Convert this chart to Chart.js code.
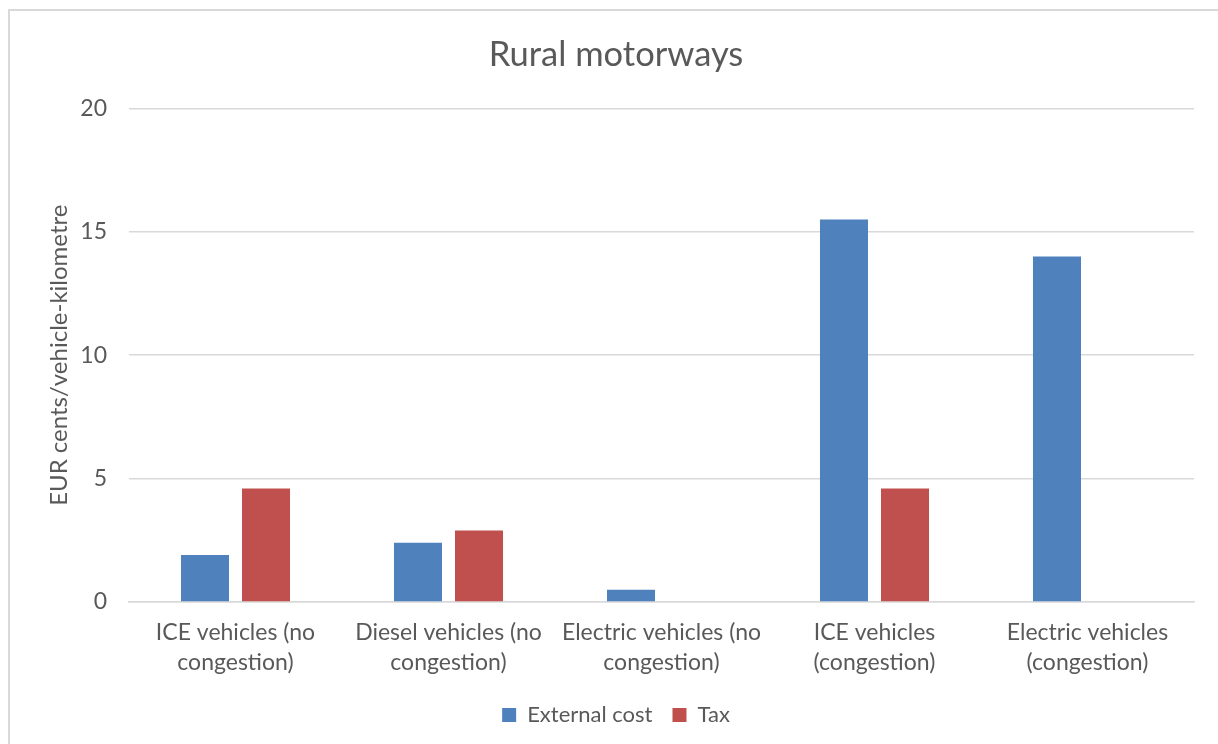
<!DOCTYPE html>
<html>
<head>
<meta charset="utf-8">
<script src="https://cdn.jsdelivr.net/npm/chart.js@4/dist/chart.umd.min.js"></script>
<style>
  html, body { margin: 0; padding: 0; background: #ffffff; overflow: hidden; }
  #frame { position: absolute; left: 8px; top: 9px; width: 1240px; height: 760px; border: 2px solid #d9d9d9; box-sizing: border-box; }
  #wrap { position: absolute; left: 0; top: 0; width: 1218px; height: 744px; }
</style>
</head>
<body>
<div id="frame"></div>
<div id="wrap"><canvas id="c" width="1218" height="744"></canvas></div>
<script>
const categories = [
  ["ICE vehicles (no", "congestion)"],
  ["Diesel vehicles (no", "congestion)"],
  ["Electric vehicles (no", "congestion)"],
  ["ICE vehicles", "(congestion)"],
  ["Electric vehicles", "(congestion)"]
];
const externalCost = [1.9, 2.4, 0.5, 15.5, 14.0];
const tax = [4.6, 2.9, 0, 4.6, 0];
const seriesNames = ["External cost", "Tax"];
const yTicks = [0, 5, 10, 15, 20];

const FONT = "Lato, 'Open Sans', sans-serif";
const TXT = "#595959";

new Chart(document.getElementById("c"), {
  type: "bar",
  data: {
    labels: categories,
    datasets: [
      { label: seriesNames[0], data: externalCost, backgroundColor: "#4F81BD", borderWidth: 0,
        categoryPercentage: 0.573, barPercentage: 0.787 },
      { label: seriesNames[1], data: tax, backgroundColor: "#C0504D", borderWidth: 0,
        categoryPercentage: 0.573, barPercentage: 0.787 }
    ]
  },
  options: {
    responsive: false,
    animation: false,
    devicePixelRatio: 1,
    layout: { padding: { left: 38, right: 24, top: 0, bottom: 8 } },
    plugins: {
      title: {
        display: true, text: "Rural motorways", color: TXT,
        font: { family: FONT, size: 34.5, weight: "normal", lineHeight: 1.2 },
        padding: { top: 34, bottom: 33 }
      },
      legend: {
        position: "bottom",
        labels: { color: TXT, font: { family: FONT, size: 22 }, boxWidth: 14, boxHeight: 14, padding: 20 }
      },
      tooltip: { enabled: false }
    },
    scales: {
      x: {
        afterFit: (axis) => { axis.height = 82; },
        grid: { display: false, drawTicks: false },
        border: { display: true, color: "#d9d9d9", width: 1.5 },
        ticks: { color: TXT, font: { family: FONT, size: 23, lineHeight: 1.3 }, padding: 16, maxRotation: 0, autoSkip: false }
      },
      y: {
        min: 0, max: 20,
        afterBuildTicks: (axis) => { axis.ticks = yTicks.map(v => ({ value: v })); },
        afterFit: (axis) => { axis.width = 91; },
        grid: { color: "#d9d9d9", lineWidth: 1.5, drawTicks: false },
        border: { display: false },
        ticks: { color: TXT, font: { family: FONT, size: 23 }, padding: 22 },
        title: {
          display: true, text: "EUR cents/vehicle-kilometre", color: TXT,
          font: { family: FONT, size: 24 }, padding: { top: 7, bottom: 0 }
        }
      }
    }
  }
});
</script>
</body>
</html>
